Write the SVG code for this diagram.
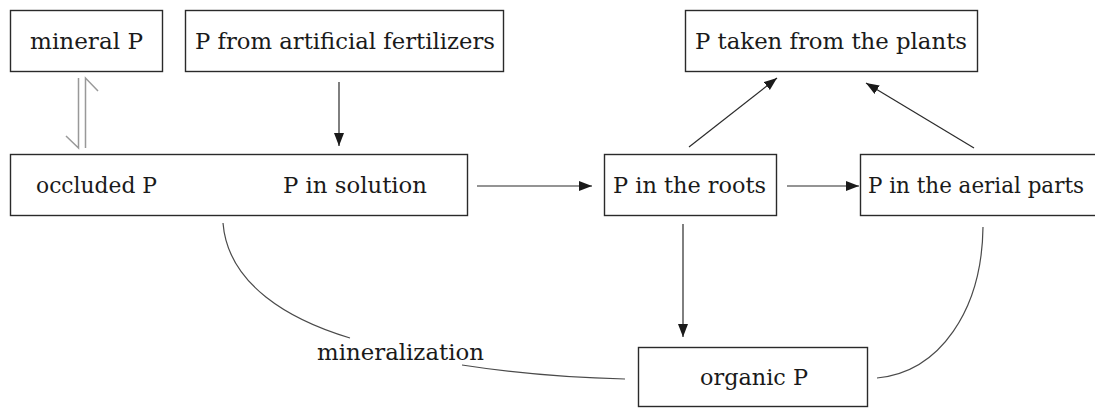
<svg xmlns="http://www.w3.org/2000/svg" width="1095" height="408" viewBox="0 0 1095 408">
  <style>
    .box { fill: #ffffff; stroke: #2a2a2a; stroke-width: 1.4; }
    .lbl { font-family: "DejaVu Serif", "Liberation Serif", serif; font-size: 23px; fill: #1a1a1a; }
    .arr { fill: none; stroke: #2a2a2a; stroke-width: 1.2; marker-end: url(#ah); }
    .curve { fill: none; stroke: #4a4a4a; stroke-width: 1.2; }
    .harp { fill: none; stroke: #999999; stroke-width: 1.5; }
  </style>
  <defs>
    <marker id="ah" markerUnits="userSpaceOnUse" markerWidth="14" markerHeight="11" refX="13" refY="5" orient="auto">
      <path d="M0,0 L13,5 L0,10 z" fill="#1a1a1a"/>
    </marker>
  </defs>
  <rect width="1095" height="408" fill="#ffffff"/>

  <g id="connectors">
    <path class="harp" d="M78.5,78 V148 L66,136"/>
    <path class="harp" d="M85.5,148 V78 L98,91"/>
    <path class="arr" d="M339,82 V146"/>
    <path class="arr" d="M477,186 H592"/>
    <path class="arr" d="M787,186 H859"/>
    <path class="arr" d="M689,147 L777,78"/>
    <path class="arr" d="M974,148 L866,83"/>
    <path class="arr" d="M683,224 V337"/>
    <path class="curve" d="M223,223 C228,285 290,320 350,338"/>
    <path class="curve" d="M462,365 C520,374 580,378 625,379"/>
    <path class="curve" d="M983,227 C982,310 940,372 877,378"/>
  </g>

  <g id="node-mineral">
    <rect class="box" x="10.5" y="10.5" width="152" height="61"/>
    <text class="lbl" x="30" y="49" textLength="113" lengthAdjust="spacingAndGlyphs">mineral P</text>
  </g>
  <g id="node-fertilizers">
    <rect class="box" x="185.5" y="10.5" width="318" height="61"/>
    <text class="lbl" x="195" y="49" textLength="300" lengthAdjust="spacingAndGlyphs">P from artificial fertilizers</text>
  </g>
  <g id="node-taken">
    <rect class="box" x="685.5" y="10.5" width="292" height="61"/>
    <text class="lbl" x="695" y="49" textLength="272" lengthAdjust="spacingAndGlyphs">P taken from the plants</text>
  </g>
  <g id="node-soil">
    <rect class="box" x="10.5" y="154.5" width="457" height="61"/>
    <text class="lbl" x="36" y="193" textLength="121" lengthAdjust="spacingAndGlyphs">occluded P</text>
    <text class="lbl" x="283" y="193" textLength="144" lengthAdjust="spacingAndGlyphs">P in solution</text>
  </g>
  <g id="node-roots">
    <rect class="box" x="604.5" y="154.5" width="172" height="61"/>
    <text class="lbl" x="613" y="193" textLength="153" lengthAdjust="spacingAndGlyphs">P in the roots</text>
  </g>
  <g id="node-aerial">
    <rect class="box" x="860.5" y="154.5" width="250" height="61"/>
    <text class="lbl" x="868" y="193" style="font-size:22px" textLength="216" lengthAdjust="spacingAndGlyphs">P in the aerial parts</text>
  </g>
  <g id="node-organic">
    <rect class="box" x="638.5" y="347.5" width="229" height="59"/>
    <text class="lbl" x="700" y="385" textLength="108" lengthAdjust="spacingAndGlyphs">organic P</text>
  </g>
  <g id="label-mineralization">
    <text class="lbl" x="317" y="360" textLength="167" lengthAdjust="spacingAndGlyphs">mineralization</text>
  </g>
</svg>
